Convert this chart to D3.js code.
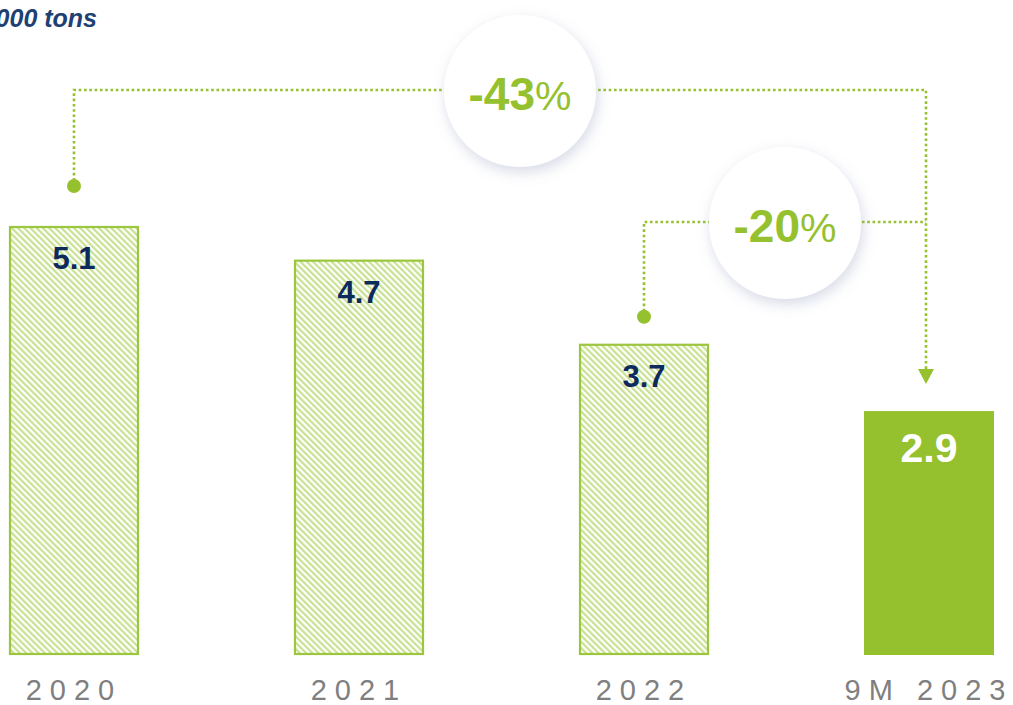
<!DOCTYPE html>
<html>
<head>
<meta charset="utf-8">
<script src="https://cdn.jsdelivr.net/npm/d3@7"></script>
<style>
  html, body { margin: 0; padding: 0; background: #fff; overflow: hidden; }
  svg { display: block; font-family: "Liberation Sans", Arial, sans-serif; }
</style>
</head>
<body>
<div id="chart"></div>
<script>
// data
const categories = ["2020", "2021", "2022", "9M 2023"];
const values = [5.1, 4.7, 3.7, 2.9];
const actual = [false, false, false, true]; // last bar is solid
const unitLabel = "'000 tons";
const changeLabels = ["-43", "-20"];
const changeFrom = ["2020", "2022"];
const changeTo = ["9M 2023", "9M 2023"];

let width = 1013;
let height = 705;
const green = "#95c12f";
const navy = "#0c2a5c";

let svg = d3
  .select("#chart")
  .append("svg")
  .attr("width", width)
  .attr("height", height);

const defs = svg.append("defs");
const hatch = defs
  .append("pattern")
  .attr("id", "hatch")
  .attr("patternUnits", "userSpaceOnUse")
  .attr("width", 4.4)
  .attr("height", 4.4)
  .attr("patternTransform", "rotate(-45)");
hatch.append("rect").attr("width", 4.4).attr("height", 4.4).attr("fill", "#fff");
hatch.append("rect").attr("width", 2.2).attr("height", 4.4).attr("fill", "#c8e192");

const shadow = defs
  .append("filter")
  .attr("id", "shadow")
  .attr("x", "-30%")
  .attr("y", "-30%")
  .attr("width", "160%")
  .attr("height", "160%");
shadow
  .append("feDropShadow")
  .attr("dx", 2)
  .attr("dy", 5)
  .attr("stdDeviation", 7)
  .attr("flood-color", "#8d96b8")
  .attr("flood-opacity", 0.35);

// scales
let x = d3
  .scaleBand()
  .domain(categories)
  .range([-68.5, 1071.5])
  .paddingInner(155 / 285)
  .paddingOuter(77.5 / 285);
let y = d3.scaleLinear().domain([0, 5.1]).range([655, 226]);

const cx = (c) => x(c) + x.bandwidth() / 2;
const valueOf = (c) => values[categories.indexOf(c)];

// unit label
svg
  .append("text")
  .attr("x", 97)
  .attr("y", 27)
  .attr("text-anchor", "end")
  .attr("font-size", 25)
  .attr("font-weight", "bold")
  .attr("font-style", "italic")
  .attr("fill", "#1e4172")
  .text(unitLabel);

// bars
const bars = svg
  .append("g")
  .selectAll("g")
  .data(categories)
  .enter()
  .append("g");

bars
  .append("rect")
  .attr("x", (d, i) => x(d) + (actual[i] ? 0 : 1))
  .attr("y", (d, i) => y(values[i]) + (actual[i] ? 0 : 1))
  .attr("width", (d, i) => x.bandwidth() - (actual[i] ? 0 : 2))
  .attr("height", (d, i) => y(0) - y(values[i]) - (actual[i] ? 0 : 2))
  .attr("fill", (d, i) => (actual[i] ? green : "url(#hatch)"))
  .attr("stroke", (d, i) => (actual[i] ? "none" : "#9bc63e"))
  .attr("stroke-width", 2.2);

bars
  .append("text")
  .attr("x", (d) => cx(d))
  .attr("y", (d, i) => y(values[i]) + (actual[i] ? 51 : 43))
  .attr("text-anchor", "middle")
  .attr("font-weight", "bold")
  .attr("font-size", (d, i) => (actual[i] ? 41 : 31))
  .attr("fill", (d, i) => (actual[i] ? "#fff" : navy))
  .text((d, i) => values[i].toFixed(1));

// category axis
svg
  .append("g")
  .selectAll("text")
  .data(categories)
  .enter()
  .append("text")
  .attr("x", (d) => cx(d))
  .attr("y", 700)
  .attr("text-anchor", "middle")
  .attr("font-size", 29)
  .attr("letter-spacing", 8)
  .attr("fill", "#7f7f7f")
  .text((d) => d);

// change connectors
const levels = [90, 222]; // bracket heights
const dotGap = [40, 27];
const badgeX = [520, 785];
const badgeR = 76;
const targetShift = -3; // arrow sits a little left of bar centre

const conn = svg.append("g");
const line = d3.line();
changeLabels.forEach((lab, i) => {
  let x0 = cx(changeFrom[i]);
  let x1 = cx(changeTo[i]) + targetShift;
  let dotY = y(valueOf(changeFrom[i])) - dotGap[i];
  let pts = [
    [x0, dotY],
    [x0, levels[i]],
    [x1, levels[i]],
  ];
  if (i === 0) pts.push([x1, y(valueOf(changeTo[i])) - 42]);
  conn
    .append("path")
    .attr("d", line(pts))
    .attr("fill", "none")
    .attr("stroke", green)
    .attr("stroke-width", 2.6)
    .attr("stroke-dasharray", "2.6,2.7");
  conn
    .append("circle")
    .attr("cx", x0)
    .attr("cy", dotY)
    .attr("r", 7)
    .attr("fill", green);
});

// arrow head on last bar
let ax = cx(changeTo[0]) + targetShift;
let ay = y(valueOf(changeTo[0])) - 27;
conn
  .append("path")
  .attr("d", `M${ax - 8},${ay - 15}L${ax + 8},${ay - 15}L${ax},${ay}Z`)
  .attr("fill", green);

// badges
changeLabels.forEach((lab, i) => {
  let g = svg.append("g");
  g.append("circle")
    .attr("cx", badgeX[i])
    .attr("cy", levels[i] + 1)
    .attr("r", badgeR)
    .attr("fill", "#fff")
    .attr("filter", "url(#shadow)");
  let t = g
    .append("text")
    .attr("x", badgeX[i])
    .attr("y", levels[i] + 20)
    .attr("text-anchor", "middle")
    .attr("fill", green);
  t.append("tspan").attr("font-size", 46).attr("font-weight", "bold").text(lab);
  t.append("tspan").attr("font-size", 41).text("%");
});
</script>
</body>
</html>
